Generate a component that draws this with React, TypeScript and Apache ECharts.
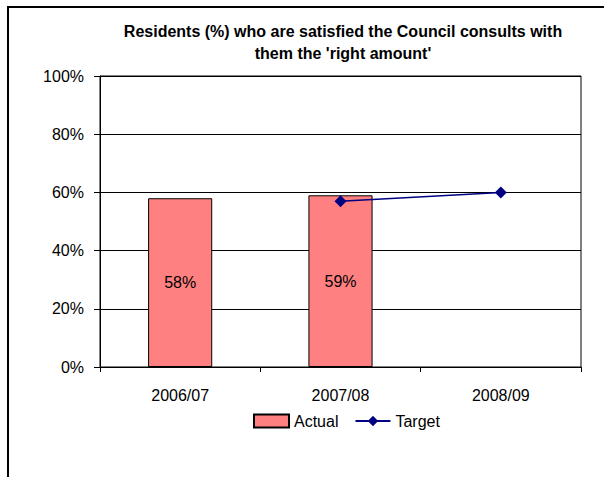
import React, { useEffect, useRef } from "react";
import * as echarts from "echarts";

const categories = ["2006/07", "2007/08", "2008/09"];
const actualValues: (number | null)[] = [58, 59, null];
const targetValues: (number | null)[] = [null, 57, 60];
const titleText = "Residents (%) who are satisfied the Council consults with\nthem the 'right amount'";
const FONT = "'Liberation Sans', Arial, sans-serif";

export default function App() {
  const ref = useRef<HTMLDivElement>(null);
  useEffect(() => {
    if (!ref.current) return;
    const chart = echarts.init(ref.current, undefined, { renderer: "svg" });
    chart.setOption({
      animation: false,
      backgroundColor: "#ffffff",
      textStyle: { fontFamily: FONT, color: "#000" },
      title: {
        text: titleText,
        left: 343,
        top: 20,
        textAlign: "center",
        padding: 0,
        textStyle: {
          fontFamily: FONT,
          fontSize: 16,
          fontWeight: "bold",
          color: "#000",
          lineHeight: 22,
        },
      },
      legend: {
        left: 253,
        top: 413,
        padding: 0,
        itemWidth: 35,
        itemHeight: 13,
        itemGap: 16,
        textStyle: { fontFamily: FONT, fontSize: 16, color: "#000", padding: [0, 0, 0, 0] },
        data: [{ name: "Actual", icon: "rect" }, { name: "Target" }],
      },
      grid: {
        left: 100,
        top: 76,
        right: 23,
        bottom: 110,
        show: true,
        borderColor: "#000",
        borderWidth: 1,
        backgroundColor: "transparent",
      },
      xAxis: {
        type: "category",
        data: categories,
        axisLine: { lineStyle: { color: "#000", width: 1 } },
        axisTick: { show: true, length: 5, lineStyle: { color: "#000" } },
        axisLabel: { fontFamily: FONT, fontSize: 16, color: "#000", margin: 20 },
      },
      yAxis: {
        type: "value",
        min: 0,
        max: 100,
        interval: 20,
        axisLine: { show: true, lineStyle: { color: "#000", width: 1 } },
        axisTick: { show: true, length: 6, lineStyle: { color: "#000" } },
        axisLabel: {
          fontFamily: FONT,
          fontSize: 16,
          color: "#000",
          margin: 16,
          formatter: "{value}%",
        },
        splitLine: { show: true, lineStyle: { color: "#000", width: 1 } },
      },
      graphic: [
        { type: "line", shape: { x1: 8, y1: 6, x2: 8, y2: 477 }, style: { stroke: "#000", lineWidth: 2 } },
        { type: "line", shape: { x1: 7, y1: 7, x2: 604, y2: 7 }, style: { stroke: "#000", lineWidth: 2 } },
      ],
      series: [
        {
          name: "Actual",
          type: "bar",
          data: actualValues,
          barWidth: "40%",
          itemStyle: { color: "#FF8080", borderColor: "#000", borderWidth: 1 },
          label: {
            show: true,
            position: "inside",
            formatter: "{c}%",
            fontFamily: FONT,
            fontSize: 16,
            color: "#000",
          },
        },
        {
          name: "Target",
          type: "line",
          data: targetValues,
          symbol: "diamond",
          symbolSize: 12,
          lineStyle: { color: "#000080", width: 1.5 },
          itemStyle: { color: "#000080" },
        },
      ],
    });
    return () => chart.dispose();
  }, []);
  return (
    <div
      ref={ref}
      style={{ position: "fixed", left: 0, top: 0, width: 604, height: 477 }}
    />
  );
}
